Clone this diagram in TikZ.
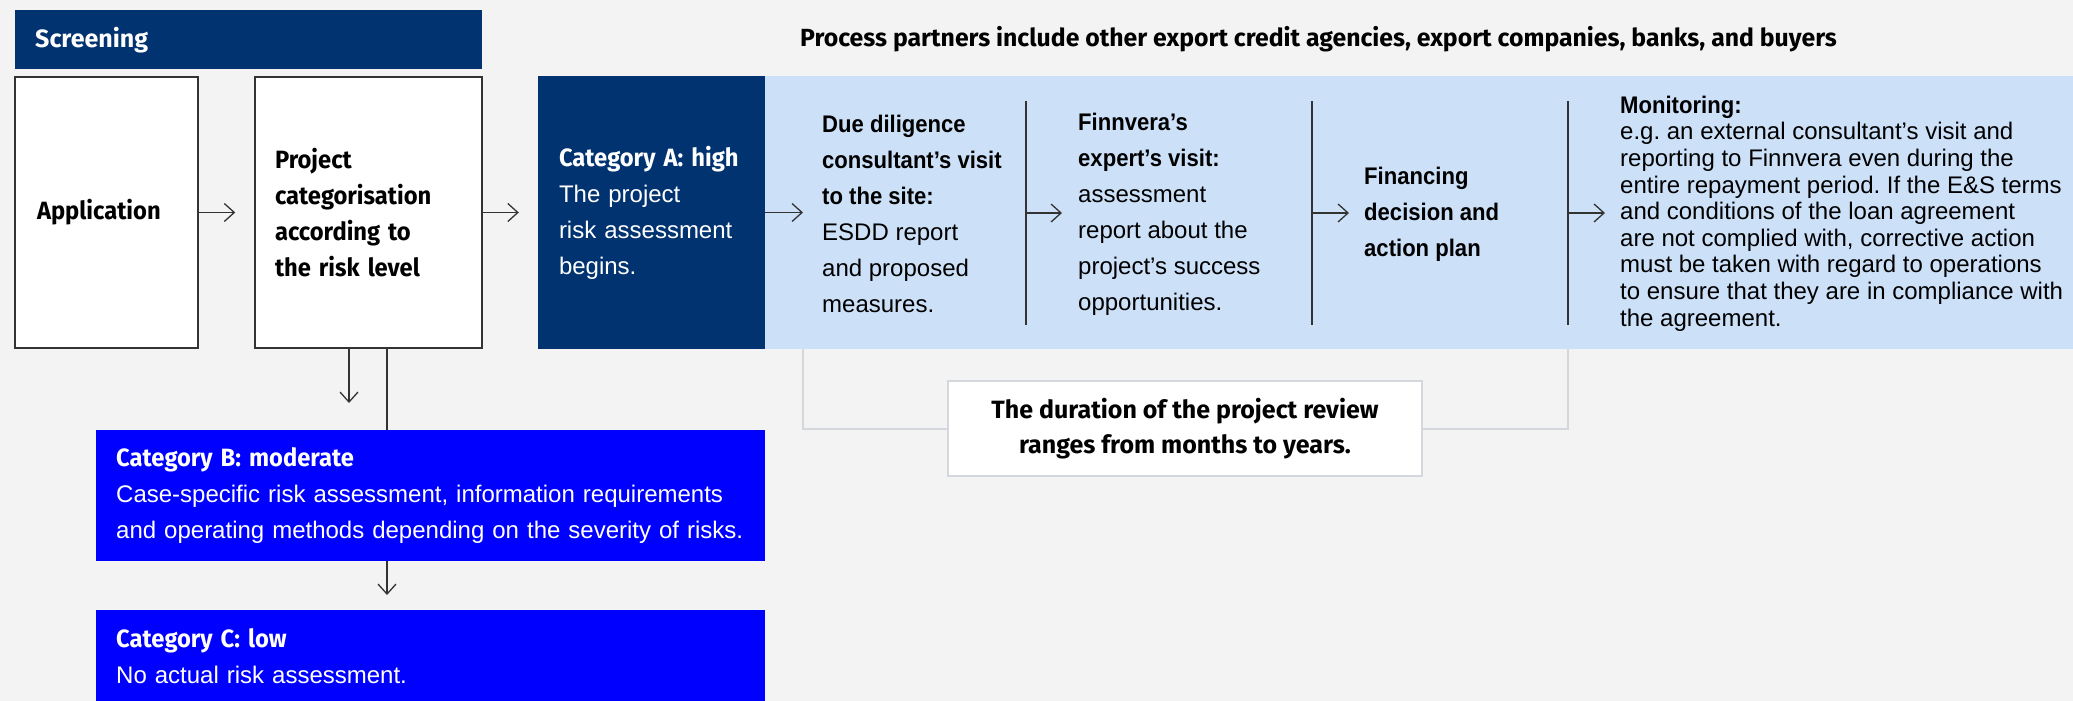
\documentclass[tikz,border=0pt]{standalone}
\usepackage{fontspec}
\setmainfont{Liberation Sans}[BoldFeatures={FakeStretch=0.92}]
\newfontfamily\fira{Fira Sans}
\newfontfamily\firac{Fira Sans}[FakeStretch=0.95]
\usetikzlibrary{arrows.meta}
\definecolor{bg}{RGB}{242,243,242}
\definecolor{navy}{RGB}{0,51,112}
\definecolor{lblue}{RGB}{204,224,248}
\definecolor{vblue}{RGB}{0,0,255}
\definecolor{lgrey}{RGB}{212,215,219}
\definecolor{dgrey}{RGB}{51,51,51}
\newcommand{\hdtxt}[1]{{\firac\bfseries\fontsize{25}{36}\selectfont #1}}
\frenchspacing
\tikzset{
  body/.style={font=\frenchspacing\fontsize{24}{36}\selectfont, inner sep=0pt, align=left},
  wbox/.style={draw=dgrey, line width=1.5pt, fill=white, inner ysep=0pt, minimum height=271, body},
  nbox/.style={fill=navy, text=white, inner ysep=0pt, minimum height=273, body},
  bbox/.style={fill=vblue, text=white, inner ysep=0pt, body},
  arr/.style={draw=dgrey, line width=1.3pt, -{Straight Barb[length=10pt,width=18pt,line width=1.3pt]}},
  divider/.style={draw=dgrey, line width=1.5pt},
  bracket/.style={draw=lgrey, line width=2pt},
  txt/.style={body, anchor=west},
}
\begin{document}
\begin{tikzpicture}[x=1pt,y=-1pt]
\fill[bg] (0,0) rectangle (2073,701);
\useasboundingbox (0,0) rectangle (2073,701);

% screening bar
\node[fill=navy, text=white, minimum width=467, minimum height=59, inner sep=0pt, anchor=north west,
      font=\fira\bfseries\fontsize{25}{30}\selectfont, text width=427, inner xsep=20pt, align=left]
  (scr) at (15,10) {Screening};

% top caption
\node[anchor=west, inner sep=0pt, font=\fira\bfseries\fontsize{24.8}{30}\selectfont]
  (partners) at (800,39) {Process partners include other export credit agencies, export companies, banks, and buyers};

% screening boxes
\node[wbox, minimum width=183, text width=139, inner xsep=22pt] (app) at (106.5,212.5) {\hdtxt{Application}};
\node[wbox, minimum width=227, text width=187, inner xsep=20pt] (proj) at (368.5,212.5)
  {\hdtxt{Project}\\\hdtxt{categorisation}\\\hdtxt{according to}\\\hdtxt{the risk level}};

% category A
\node[nbox, minimum width=227, text width=185, inner xsep=21pt] (catA) at (651.5,212.5)
  {\hdtxt{Category~A:~high}\\The project\\risk assessment\\begins.};

% light blue process band
\node[fill=lblue, minimum width=1308, minimum height=273, inner sep=0pt] (band) at (1419,212.5) {};

\node[txt] (due) at (822,214)
  {\textbf{Due diligence}\\\textbf{consultant’s visit}\\\textbf{to the site:}\\ESDD report\\and proposed\\measures.};
\node[txt] (fin) at (1078,214)
  {\textbf{Finnvera’s}\\\textbf{expert’s visit:}\\assessment\\report about the\\project’s success\\opportunities.};
\node[txt] (finan) at (1364,214)
  {\textbf{Financing}\\\textbf{decision and}\\\textbf{action plan}};
\node[txt, font=\frenchspacing\fontsize{24}{26.6}\selectfont] (mon) at (1620,213.5)
  {\textbf{Monitoring:}\\e.g. an external consultant’s visit and\\reporting to Finnvera even during the\\entire repayment period. If the E\&S terms\\and conditions of the loan agreement\\are not complied with, corrective action\\must be taken with regard to operations\\to ensure that they are in compliance with\\the agreement.};

% dividers
\coordinate (d1t) at (1026,101); \coordinate (d1b) at (1026,325); \coordinate (d1) at (1026,213);
\coordinate (d2t) at (1312,101); \coordinate (d2b) at (1312,325); \coordinate (d2) at (1312,213);
\coordinate (d3t) at (1568,101); \coordinate (d3b) at (1568,325); \coordinate (d3) at (1568,213);
\draw[divider] (d1t) -- (d1b);
\draw[divider] (d2t) -- (d2b);
\draw[divider] (d3t) -- (d3b);

% horizontal arrows
\draw[arr, shorten >=19pt] (app.east) -- (proj.west);
\draw[arr, shorten >=19pt] (proj.east) -- (catA.west);
\draw[arr, shorten >=19pt] (catA.east) -- (catA.east -| due.west);
\draw[arr, shorten >=16pt] (d1) -- (d1 -| fin.west);
\draw[arr, shorten >=15pt] (d2) -- (d2 -| finan.west);
\draw[arr, shorten >=15pt] (d3) -- (d3 -| mon.west);

% categories B and C
\node[bbox, anchor=north west, minimum width=669, minimum height=131, text width=629, inner xsep=20pt] (catB) at (96,430)
  {\hdtxt{Category B: moderate}\\Case-specific risk assessment, information requirements\\and operating methods depending on the severity of risks.};
\node[bbox, anchor=north west, minimum width=669, minimum height=91, text width=629, inner xsep=20pt] (catC) at (96,610)
  {\hdtxt{Category C: low}\\No actual risk assessment.};

\coordinate (bfree) at (349,403);
\coordinate (cx) at (387,500);
\draw[arr] (bfree |- proj.south) -- (bfree);
\draw[draw=dgrey, line width=1.3pt] (proj.south -| cx) -- (catB.north -| cx);
\draw[arr, shorten >=15pt] (catB.south -| cx) -- (catC.north -| cx);

% duration bracket
\node[draw=lgrey, line width=2pt, fill=white, minimum width=474, minimum height=95, inner sep=0pt, align=center,
      font=\fira\bfseries\fontsize{25}{35}\selectfont] (dur) at (1185,428.5)
  {The duration of the project review\\ranges from months to years.};
\coordinate (bl) at (803,349); \coordinate (br) at (1568,349);
\draw[bracket] (bl) -- (bl |- dur.west) -- (dur.west);
\draw[bracket] (dur.east) -- (br |- dur.east) -- (br);
\end{tikzpicture}
\end{document}
